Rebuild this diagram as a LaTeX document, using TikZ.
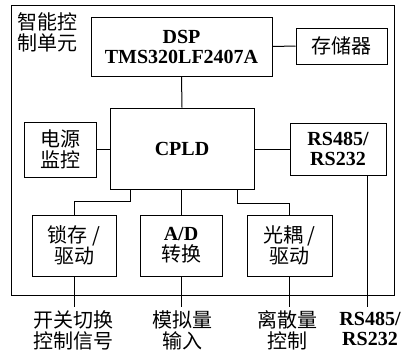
\documentclass[tikz,border=0pt]{standalone}
\usepackage{fontspec}
\setmainfont{Liberation Serif}
\newfontfamily\cjk{Noto Sans CJK SC}
\begin{document}
\begin{tikzpicture}[x=1pt,y=-1pt,
  box/.style={draw,line width=1pt,inner sep=0pt},
  conn/.style={line width=1pt},
  txt/.style={align=center,font=\fontsize{20pt}{20pt}\selectfont\bfseries},
  ctxt/.style={align=center,font=\fontsize{20pt}{21pt}\selectfont\cjk}]
\useasboundingbox (0,0) rectangle (407,354);
% outer
\draw[box] (11,5) rectangle (394,295);
\node[ctxt,anchor=north west,align=left] (title) at (14,9) {智能控\\制单元};
% boxes
\node[box,minimum width=181pt,minimum height=59pt] (dsp) at (181.5,46.5) {};
\node[txt] (dspt) at (dsp) {DSP\\TMS320LF2407A};
\node[box,minimum width=91pt,minimum height=36pt] (mem) at (341.5,46) {};
\node[ctxt] (memt) at (mem) {存储器};
\node[box,minimum width=144pt,minimum height=81pt] (cpld) at (182,148.5) {};
\node[txt] (cpldt) at (cpld) {CPLD};
\node[box,minimum width=72pt,minimum height=55pt] (pwr) at (60,149.5) {};
\node[ctxt] (pwrt) at (pwr) {电源\\监控};
\node[box,minimum width=96pt,minimum height=52pt] (rs) at (338,149) {};
\node[txt] (rst) at (rs) {RS485/\\RS232};
\node[box,minimum width=84pt,minimum height=61pt] (latch) at (74,245.5) {};
\node[ctxt] (latcht) at (latch) {锁存 /\\驱动};
\node[box,minimum width=82pt,minimum height=61pt] (ad) at (181,245.5) {};
\node[ctxt] (adt) at (ad) {{\rmfamily\bfseries A/D}\\转换};
\node[box,minimum width=85pt,minimum height=61pt] (opto) at (289.5,245.5) {};
\node[ctxt] (optot) at (opto) {光耦 /\\驱动};
% connectors
\draw[conn] (dsp.east) -- (mem.west);
\draw[conn] (dsp.south) -- (cpld.north);
\draw[conn] (pwr.east) -- (pwr.east -| cpld.west);
\draw[conn] (rs.west -| cpld.east) -- (rs.west);
\draw[conn] (130,189) -- (130,201) -- (74,201) -- (latch.north);
\draw[conn] (ad.north |- cpld.south) -- (ad.north);
\draw[conn] (237,189) -- (237,203) -- (289.5,203) -- (opto.north);
% outputs
\coordinate (o1) at (74,307);
\coordinate (o2) at (181,307);
\coordinate (o3) at (289.5,307);
\coordinate (o4) at (367,307);
\draw[conn] (latch.south) -- (o1);
\draw[conn] (ad.south) -- (o2);
\draw[conn] (opto.south) -- (o3);
\draw[conn] (rs.south -| o4) -- (o4);
\node[ctxt,anchor=north] (l1) at (74,307) {开关切换\\控制信号};
\node[ctxt,anchor=north] (l2) at (182,307) {模拟量\\输入};
\node[ctxt,anchor=north] (l3) at (287,307) {离散量\\控制};
\node[txt,anchor=north] (l4) at (370,309) {RS485/\\RS232};
\end{tikzpicture}
\end{document}
